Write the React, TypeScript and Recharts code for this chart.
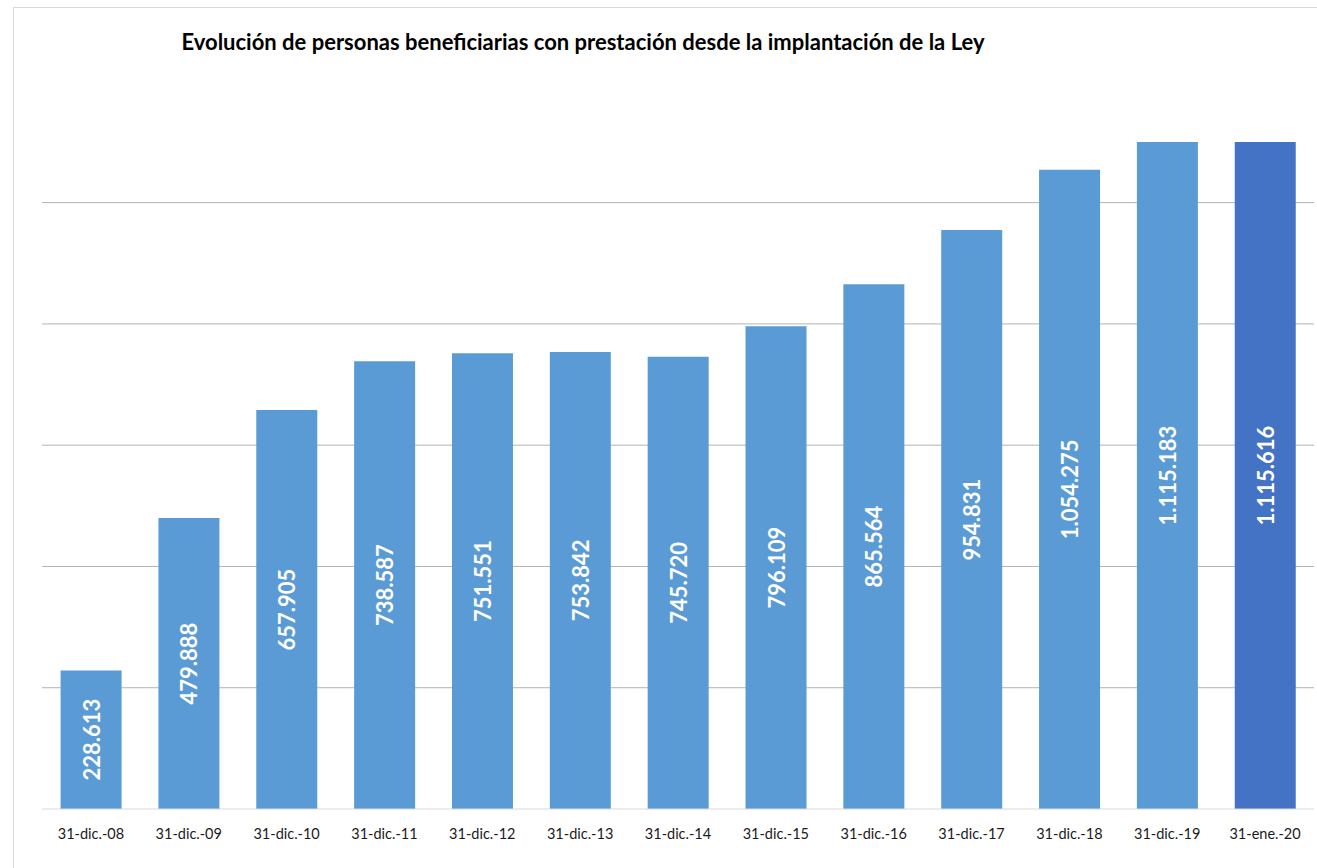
import React from 'react';
import { BarChart, Bar, XAxis, YAxis, CartesianGrid, Cell, LabelList } from 'recharts';

const fechas = [
  '31-dic.-08', '31-dic.-09', '31-dic.-10', '31-dic.-11', '31-dic.-12', '31-dic.-13', '31-dic.-14',
  '31-dic.-15', '31-dic.-16', '31-dic.-17', '31-dic.-18', '31-dic.-19', '31-ene.-20',
];
const beneficiarios = [
  228613, 479888, 657905, 738587, 751551, 753842, 745720,
  796109, 865564, 954831, 1054275, 1115183, 1115616,
];
const yTicks = [0, 200000, 400000, 600000, 800000, 1000000];

const data = fechas.map((f, i) => ({ fecha: f, valor: beneficiarios[i] }));

const PLOT_TOP = 142;
const fmtES = (v: number) => String(v).replace(/\B(?=(\d{3})+(?!\d))/g, '.');

const BarLabel = (props: any) => {
  const { x, y, width, height, value } = props;
  const top = Math.max(y, PLOT_TOP);
  const cy = (top + y + height) / 2;
  const cx = x + width / 2;
  return (
    <text x={cx} y={cy} transform={`rotate(-90 ${cx} ${cy})`} textAnchor="middle" dominantBaseline="central"
      fill="#fff" fontSize={22} fontWeight={700} fontFamily="Lato">
      {fmtES(value)}
    </text>
  );
};

export default function App() {
  return (
    <div style={{ position: 'absolute', left: 0, top: 0, width: 1317, height: 868, background: '#fff', fontFamily: 'Lato' }}>
      <div style={{ position: 'absolute', left: 13, top: 7, right: 0, bottom: 0, borderTop: '1px solid #d9d9d9', borderLeft: '1px solid #d9d9d9' }} />
      <div style={{ position: 'absolute', left: 0, width: 1166, top: 28, textAlign: 'center', fontSize: 22, fontWeight: 700, color: '#000' }}>
        Evolución de personas beneficiarias con prestación desde la implantación de la Ley
      </div>
      <div style={{ position: 'absolute', left: 0, top: 0 }}>
        <BarChart width={1317} height={868} data={data} margin={{ top: PLOT_TOP, right: 3, left: 42, bottom: 0 }} barCategoryGap="19%">
          <CartesianGrid vertical={false} stroke="#b3b3b3" horizontalValues={yTicks.slice(1)} />
          <XAxis dataKey="fecha" height={59} axisLine={{ stroke: '#d9d9d9' }} tickLine={false}
            tick={{ fontSize: 14.5, fill: '#1a1a1a', fontFamily: 'Lato' }} tickMargin={14} interval={0} />
          <YAxis hide width={0} domain={[0, 1100000]} ticks={yTicks} allowDataOverflow />
          <Bar dataKey="valor" isAnimationActive={false}>
            {data.map((d, i) => (
              <Cell key={d.fecha} fill={i === data.length - 1 ? '#4472C4' : '#5B9BD5'} />
            ))}
            <LabelList dataKey="valor" content={BarLabel} />
          </Bar>
        </BarChart>
      </div>
    </div>
  );
}
